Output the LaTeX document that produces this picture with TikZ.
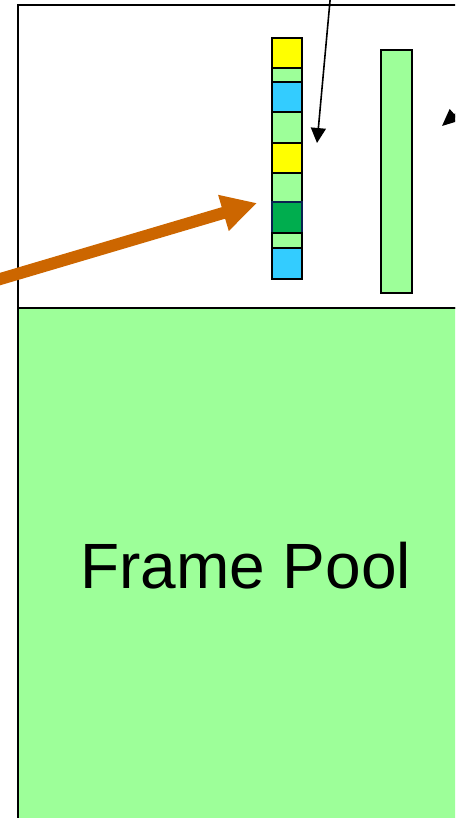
\documentclass[tikz,border=0pt]{standalone}
\usepackage{fontspec}
\setmainfont{Liberation Sans}
\usetikzlibrary{arrows.meta,positioning}
\definecolor{poolgreen}{HTML}{9DFF99}
\definecolor{usedyellow}{HTML}{FFFF00}
\definecolor{usedblue}{HTML}{33CCFF}
\definecolor{usedgreen}{HTML}{00AD4E}
\definecolor{navyline}{HTML}{0A2050}
\definecolor{maporange}{HTML}{CC6600}
\begin{document}
\begin{tikzpicture}[x=1pt,y=-1pt,
  cell/.style={rectangle, draw, line width=1.6pt, minimum width=30pt,
    inner sep=0pt, outer sep=0pt},
  pointer/.style={-{Triangle[length=15pt,width=15pt]}, line width=1.6pt},
  mapping/.style={-{Triangle[length=35pt,width=35pt]}, line width=12pt,
    draw=maporange, fill=maporange}
]
\useasboundingbox (0,0) rectangle (455,818);
\clip (0,0) rectangle (455,818);
% upper area and frame pool
\draw[line width=1.6pt] (18,5) rectangle (480,308);
\draw[line width=1.6pt, fill=poolgreen] (18,308) rectangle (480,840);
\node[font=\fontsize{64}{70}\selectfont] (pool) at (245.5,566) {Frame Pool};
% stack of frames
\node[cell, fill=usedyellow, minimum height=30pt, anchor=north west] (s1) at (272,38) {};
\node[cell, fill=poolgreen, minimum height=14pt, below=0pt of s1] (s2) {};
\node[cell, fill=usedblue, minimum height=30pt, below=0pt of s2] (s3) {};
\node[cell, fill=poolgreen, minimum height=31pt, below=0pt of s3] (s4) {};
\node[cell, fill=usedyellow, minimum height=30pt, below=0pt of s4] (s5) {};
\node[cell, fill=poolgreen, minimum height=29pt, below=0pt of s5] (s6) {};
\node[cell, fill=usedgreen, draw=navyline, minimum height=31pt, below=0pt of s6] (s7) {};
\node[cell, fill=poolgreen, minimum height=15pt, below=0pt of s7] (s8) {};
\node[cell, fill=usedblue, minimum height=31pt, below=0pt of s8] (s9) {};
% free list
\node[cell, line width=1.3pt, fill=poolgreen, minimum width=31pt, minimum height=243pt,
  anchor=north west] (free) at (381,50) {};
% arrows
\coordinate (toptail) at (331,-10);
\coordinate (toptip) at (317,143);
\coordinate (righttail) at (519,58);
\coordinate (righttip) at (442,126);
\coordinate (maptail) at (-20,285);
\coordinate (maptip) at (257,203);
\draw[pointer] (toptail) -- (toptip);
\draw[pointer, -{Triangle[length=17pt,width=15pt]}] (righttail) -- (righttip);
\draw[mapping] (maptail) -- (maptip);
\end{tikzpicture}
\end{document}
